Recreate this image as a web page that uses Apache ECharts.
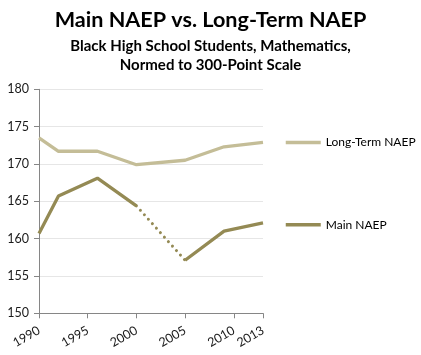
<!DOCTYPE html>
<html><head><meta charset="utf-8">
<script src="https://cdn.jsdelivr.net/npm/echarts@6/dist/echarts.min.js"></script>
<style>html,body{margin:0;padding:0;background:#fff}#c{width:421px;height:355px}</style>
</head><body><div id="c"></div>
<script>
const titleText = 'Main NAEP vs. Long-Term NAEP';
const subtitleText = 'Black High School Students, Mathematics,\nNormed to 300-Point Scale';
const xTicks = [1990, 1995, 2000, 2005, 2010, 2013];
const yTicks = [150, 155, 160, 165, 170, 175, 180];
const longTermYears = [1990, 1992, 1996, 2000, 2005, 2009, 2013];
const longTermValues = [173.5, 171.7, 171.7, 169.9, 170.5, 172.3, 172.9];
const mainYears = [1990, 1992, 1996, 2000, 2005, 2009, 2013];
const mainValues = [160.7, 165.7, 168.1, 164.4, 157.1, 161.0, 162.1];
const gapStartYear = 2000;  // dotted segment between these two
const gapEndYear = 2005;

const FONT = 'Lato';
const ltPairs = longTermYears.map((y, i) => [y, longTermValues[i]]);
const mainSolid = [];
const mainDotted = [];
mainYears.forEach((y, i) => {
  if (y === gapEndYear) mainSolid.push([(gapStartYear + gapEndYear) / 2, '-']);
  mainSolid.push([y, mainValues[i]]);
  if (y === gapStartYear || y === gapEndYear) mainDotted.push([y, mainValues[i]]);
});

const chart = echarts.init(document.getElementById('c'), null, {renderer: 'canvas'});
chart.setOption({
  animation: false,
  backgroundColor: '#fff',
  title: {
    text: titleText,
    subtext: subtitleText,
    left: 'center',
    top: 4,
    padding: [5, 9, 5, 0],
    itemGap: 5,
    textStyle: {fontFamily: FONT, fontWeight: 'bold', fontSize: 21.6, color: '#000'},
    subtextStyle: {fontFamily: FONT, fontWeight: 'bold', fontSize: 15, color: '#000', lineHeight: 19.5}
  },
  legend: {
    data: ['Long-Term NAEP', 'Main NAEP'],
    orient: 'vertical',
    left: 279,
    top: 131.5,
    itemWidth: 35,
    itemHeight: 14,
    itemGap: 70.2,
    itemStyle: {opacity: 0},
    lineStyle: {width: 3.5},
    textStyle: {fontFamily: FONT, fontSize: 12, color: '#000'}
  },
  grid: {left: 39, right: 158, top: 89.3, bottom: 41.7, containLabel: false},
  xAxis: {
    type: 'value',
    min: 1990, max: 2013,
    axisLine: {lineStyle: {color: '#868686', width: 1}},
    axisTick: {show: true, length: 5, lineStyle: {color: '#868686'}, customValues: xTicks},
    axisLabel: {customValues: xTicks, rotate: 30, margin: 16, fontFamily: FONT, fontSize: 12.5, color: '#1a1a1a', formatter: v => String(v)},
    splitLine: {show: false}
  },
  yAxis: {
    type: 'value',
    min: 150, max: 180, interval: 5,
    axisLine: {show: true, lineStyle: {color: '#868686', width: 1}},
    axisTick: {show: true, length: 5, lineStyle: {color: '#868686'}},
    axisLabel: {margin: 10, fontFamily: FONT, fontSize: 12.5, color: '#1a1a1a'},
    splitLine: {lineStyle: {color: '#e6e6e6', width: 1}}
  },
  series: [
    {name: 'Long-Term NAEP', type: 'line', data: ltPairs, symbol: 'none',
     lineStyle: {color: '#C4BD97', width: 3.3}, itemStyle: {color: '#C4BD97'}},
    {name: 'Main NAEP', type: 'line', data: mainSolid, symbol: 'none', connectNulls: false,
     lineStyle: {color: '#948A54', width: 3.3}, itemStyle: {color: '#948A54'}},
    {name: 'Main NAEP gap', type: 'line', data: mainDotted, symbol: 'none',
     lineStyle: {color: '#948A54', width: 3, type: [0.01, 6], cap: 'round'}}
  ]
});
</script></body></html>
